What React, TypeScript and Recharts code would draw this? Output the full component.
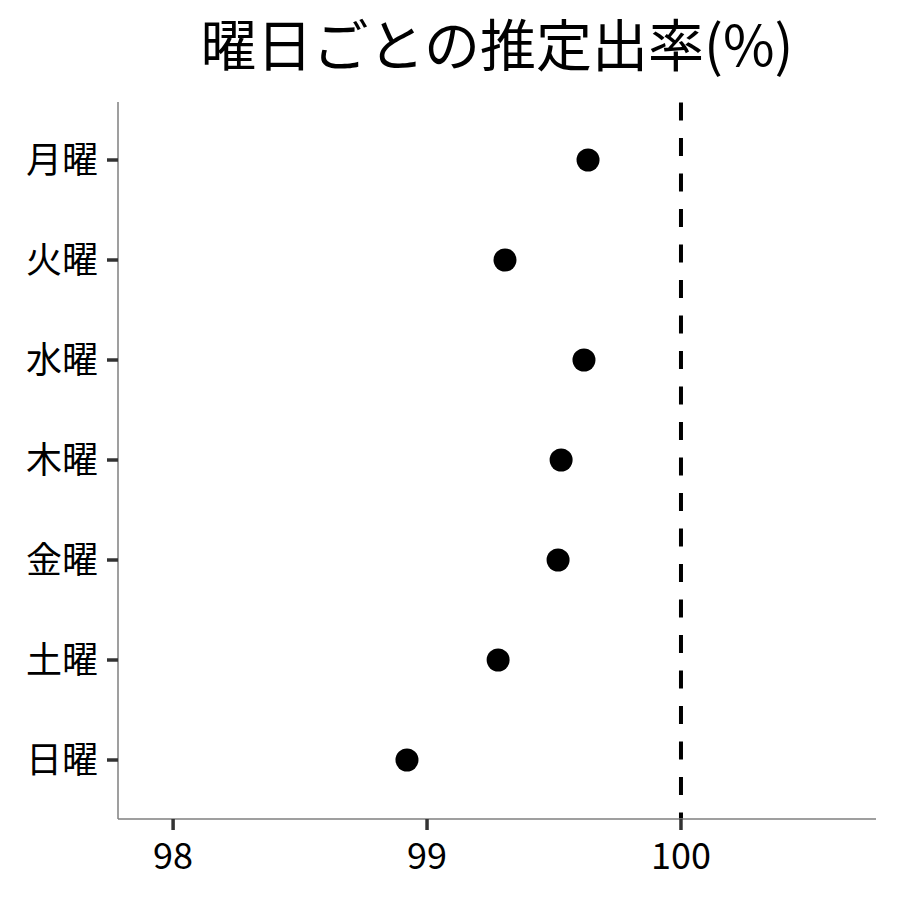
import React from "react";
import { ScatterChart, Scatter, XAxis, YAxis, ReferenceLine } from "recharts";

const days = ["月曜", "火曜", "水曜", "木曜", "金曜", "土曜", "日曜"];
const rates = [99.634, 99.307, 99.618, 99.528, 99.516, 99.28, 98.921];
const xTicks = [98, 99, 100];
const refValue = 100;

const data = days.map((d, i) => ({ day: d, pos: i + 1, rate: rates[i] }));

const FONT = '"Noto Sans CJK JP", "Noto Sans", sans-serif';

const Dot = (props: any) => {
  const { cx, cy } = props;
  return <circle cx={cx} cy={cy} r={11.5} fill="#000000" />;
};

export default function App() {
  return (
    <div style={{ position: "absolute", left: 0, top: 0, width: 900, height: 900, background: "#fff" }}>
      <div
        style={{
          position: "absolute",
          left: 118,
          width: 758,
          top: 2,
          textAlign: "center",
          fontFamily: FONT,
          fontSize: 56,
          lineHeight: "80px",
          color: "#000",
          whiteSpace: "nowrap",
        }}
      >
        曜日ごとの推定出率(%)
      </div>
      <ScatterChart width={900} height={900} margin={{ top: 102, right: 24, bottom: 0, left: 0 }}>
        <XAxis
          type="number"
          dataKey="rate"
          domain={[97.783, 100.768]}
          ticks={xTicks}
          allowDataOverflow
          height={81}
          axisLine={{ stroke: "#7f7f7f", strokeWidth: 1.5 }}
          tickLine={{ stroke: "#333333", strokeWidth: 3.5 }}
          tickSize={11}
          tickMargin={13}
          tick={{ fill: "#000", fontSize: 36, fontFamily: FONT }}
        />
        <YAxis
          type="number"
          dataKey="pos"
          domain={[0.42, 7.59]}
          reversed
          ticks={[1, 2, 3, 4, 5, 6, 7]}
          tickFormatter={(v: number) => days[v - 1]}
          allowDataOverflow
          width={118}
          axisLine={{ stroke: "#7f7f7f", strokeWidth: 1.5 }}
          tickLine={{ stroke: "#333333", strokeWidth: 3.5 }}
          tickSize={11}
          tickMargin={9}
          tick={{ fill: "#000", fontSize: 36, fontFamily: FONT }}
        />
        <ReferenceLine
          x={refValue}
          stroke="#000"
          strokeWidth={4}
          strokeDasharray="18 17.5"
          strokeDashoffset={11.5}
        />
        <Scatter data={data} shape={<Dot />} isAnimationActive={false} />
      </ScatterChart>
    </div>
  );
}
